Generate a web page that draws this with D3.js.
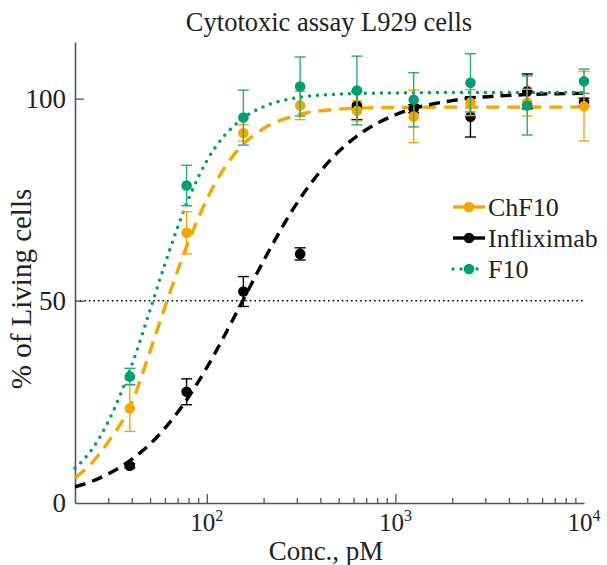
<!DOCTYPE html>
<html>
<head>
<meta charset="utf-8">
<script src="https://cdn.jsdelivr.net/npm/d3@7"></script>
<style>
  body { margin: 0; background: #fff; }
  svg text { font-family: "Liberation Serif", "Times New Roman", serif; fill: #222; }
</style>
</head>
<body>
<div id="chart"></div>
<script>
// measured points (concentration in pM)
const conc = [39.06, 78.13, 156.25, 312.5, 625, 1250, 2500, 5000, 10000];
const chf10 = [23.4, 66.8, 91.5, 98.3, 97.0, 95.6, 99.0, 99.0, 98.1];
const chf10Err = [5.7, 5.2, 2.0, 3.5, 2.5, 6.5, 3.2, 3.3, 8.6];
const infliximab = [9.2, 27.5, 52.3, 61.6, 98.3, 97.5, 95.5, 101.8, 99.1];
const infliximabErr = [0.5, 3.2, 3.7, 1.5, 3.5, 1.0, 5.0, 4.3, 1.0];
const f10 = [31.3, 78.5, 95.3, 103.0, 102.0, 99.7, 103.9, 98.3, 104.3];
const f10Err = [2.0, 5.0, 6.8, 7.3, 8.5, 6.7, 7.2, 7.3, 3.0];

// fitted curves at these concentrations
const fitX = [20, 25, 30, 40, 50, 60, 80, 100, 150, 200, 300, 500, 700, 1000, 2000, 5000, 10000];
const fitChF10 = [6.2, 10.3, 15.1, 24.8, 37.5, 48.5, 64.6, 75.1, 87.9, 92.6, 95.9, 97.4, 97.7, 97.8, 97.9, 97.9, 97.9];
const fitInfliximab = [4.0, 5.5, 7.2, 10.8, 14.6, 18.5, 26.2, 33.5, 48.7, 59.9, 74.1, 86.9, 92.3, 96.0, 99.5, 101.0, 101.3];
const fitF10 = [8.6, 13.7, 20.1, 34.1, 47.7, 59.1, 75.2, 84.6, 94.6, 98.0, 100.2, 101.1, 101.3, 101.4, 101.5, 101.5, 101.5];

const yTicks = [0, 50, 100];
const xMajor = [100, 1000, 10000];
const refLine = 50;

const W = 607, H = 565;
const margin = { top: 42, right: 23, bottom: 62, left: 75 };

const svg = d3.select('#chart').append('svg')
  .attr('width', W)
  .attr('height', H);

const x = d3.scaleLog().domain([20, 10000]).range([margin.left, W - margin.right]);
const y = d3.scaleLinear().domain([0, 114]).range([H - margin.bottom, margin.top]);

const series = [
  { name: 'ChF10', pts: chf10, err: chf10Err, fit: fitChF10, color: '#f5a700', dash: '13,8', cap: 'butt' },
  { name: 'Infliximab', pts: infliximab, err: infliximabErr, fit: fitInfliximab, color: '#000000', dash: '11,7', cap: 'butt' },
  { name: 'F10', pts: f10, err: f10Err, fit: fitF10, color: '#009e73', dash: '0,8', cap: 'round' },
];

// 50% reference line
svg.append('line')
  .attr('x1', x(20)).attr('x2', x(10000))
  .attr('y1', y(refLine)).attr('y2', y(refLine))
  .attr('stroke', '#000')
  .attr('stroke-width', 1.6)
  .attr('stroke-dasharray', '1.6,3');

// axes
const xAxis = d3.axisBottom(x)
  .tickValues(d3.range(2, 5).flatMap(e => d3.range(1, 10).map(m => m * Math.pow(10, e - 1))).filter(v => v >= 30 && v <= 10000))
  .tickSize(0)
  .tickFormat('');
const gx = svg.append('g').attr('transform', `translate(0,${y(0)})`).call(xAxis);
gx.select('.domain').attr('stroke', '#555').attr('stroke-width', 1.6);
gx.selectAll('.tick line')
  .attr('y2', d => xMajor.includes(d) ? -9 : -5)
  .attr('stroke', '#555').attr('stroke-width', 1.3);

// x tick labels as 10^n
xMajor.forEach(v => {
  const t = svg.append('text')
    .attr('x', x(v))
    .attr('y', y(0) + 28)
    .attr('text-anchor', 'middle')
    .style('font-size', '25px');
  t.append('tspan').text('10');
  t.append('tspan').attr('dy', -10).style('font-size', '16px').text(Math.round(Math.log10(v)));
});

const yAxis = d3.axisLeft(y).tickValues(yTicks).tickSize(0).tickPadding(9);
const gy = svg.append('g').attr('transform', `translate(${x(20)},0)`).call(yAxis);
gy.select('.domain').attr('stroke', '#555').attr('stroke-width', 1.6);
gy.selectAll('.tick line').attr('x2', d => d === 0 ? 0 : 9).attr('stroke', '#555').attr('stroke-width', 1.3);
gy.selectAll('.tick text')
  .style('font-size', '27px')
  .style('font-family', '"Liberation Serif", serif')
  .attr('fill', '#222');

// fitted curves
const line = d3.line()
  .x((d, i) => x(fitX[i]))
  .y(d => y(d))
  .curve(d3.curveMonotoneX);

series.forEach(s => {
  svg.append('path')
    .datum(s.fit)
    .attr('d', line)
    .attr('fill', 'none')
    .attr('stroke', s.color)
    .attr('stroke-width', s.name === 'F10' ? 3.6 : 3.4)
    .attr('stroke-linecap', s.cap)
    .attr('stroke-dasharray', s.dash);
});

// error bars and points
const drawOrder = [series[1], series[0], series[2]];
drawOrder.forEach(s => {
  const g = svg.append('g');
  const col = s.name === 'F10' ? '#2aa882' : s.color;
  conc.forEach((c, i) => {
    const cx = x(c);
    const lo = y(s.pts[i] - s.err[i]);
    const hi = y(s.pts[i] + s.err[i]);
    g.append('line').attr('x1', cx).attr('x2', cx).attr('y1', lo).attr('y2', hi)
      .attr('stroke', col).attr('stroke-width', 1.4);
    [lo, hi].forEach(yy => g.append('line')
      .attr('x1', cx - 5.5).attr('x2', cx + 5.5).attr('y1', yy).attr('y2', yy)
      .attr('stroke', col).attr('stroke-width', 1.4));
  });
  g.selectAll('circle')
    .data(s.pts)
    .enter()
    .append('circle')
    .attr('cx', (d, i) => x(conc[i]))
    .attr('cy', d => y(d))
    .attr('r', 5.3)
    .attr('fill', s.color);
});

// title and axis labels
svg.append('text')
  .attr('x', 329).attr('y', 31)
  .attr('text-anchor', 'middle')
  .style('font-size', '26.5px')
  .text('Cytotoxic assay L929 cells');

svg.append('text')
  .attr('x', 326).attr('y', 560)
  .attr('text-anchor', 'middle')
  .style('font-size', '27px')
  .text('Conc., pM');

svg.append('text')
  .attr('transform', `translate(31,${289}) rotate(-90)`)
  .attr('text-anchor', 'middle')
  .style('font-size', '29px')
  .text('% of Living cells');

// legend
const legend = svg.append('g').attr('transform', 'translate(453,207)');
series.forEach((s, i) => {
  const row = legend.append('g').attr('transform', `translate(0,${i * 31})`);
  row.append('line')
    .attr('x1', 0).attr('x2', 32)
    .attr('stroke', s.color)
    .attr('stroke-width', 3.4)
    .attr('stroke-linecap', s.cap)
    .attr('stroke-dasharray', s.name === 'F10' ? '0,8' : null);
  row.append('circle').attr('cx', 16).attr('r', 5.3).attr('fill', s.color);
  row.append('text')
    .attr('x', 35).attr('y', 9)
    .style('font-size', '26px')
    .text(s.name);
});
</script>
</body>
</html>
